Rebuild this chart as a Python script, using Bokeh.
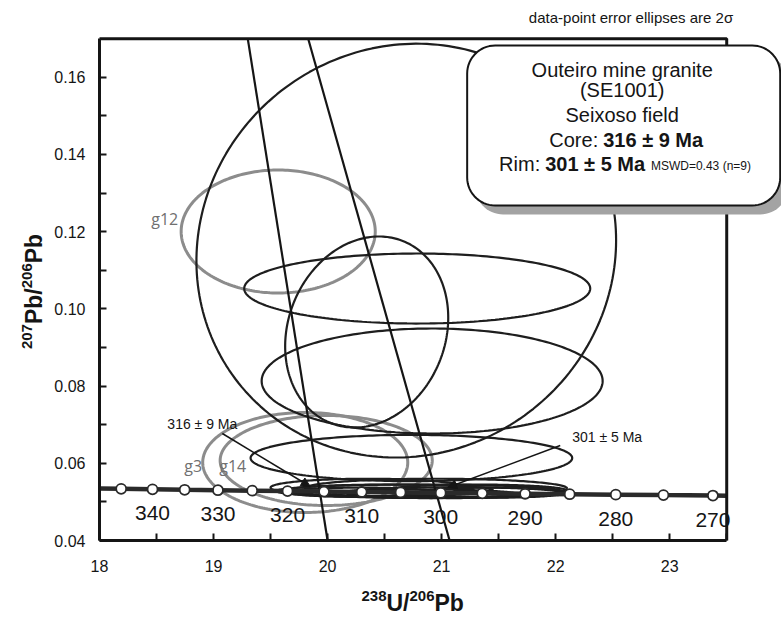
import numpy as np
from bokeh.plotting import figure
from bokeh.models import Range1d, FixedTicker, PrintfTickFormatter, Arrow, NormalHead
from bokeh.core.properties import value
from bokeh.embed import file_html
from bokeh.resources import INLINE

# ---------------- data ----------------
# concordia age markers (Ma) with their 238U/206Pb and 207Pb/206Pb positions
marker_age = [345, 340, 335, 330, 325, 320, 315, 310, 305, 300, 295, 290, 285, 280, 275, 270]
marker_x = [18.190, 18.465, 18.747, 19.039, 19.339, 19.649, 19.969, 20.299,
            20.640, 20.992, 21.356, 21.732, 22.123, 22.527, 22.945, 23.379]
marker_y = [0.05338, 0.05326, 0.05314, 0.05303, 0.05291, 0.05280, 0.05268, 0.05256,
            0.05245, 0.05233, 0.05222, 0.05211, 0.05199, 0.05188, 0.05176, 0.05165]
# concordia curve through the frame
conc_x = [18.0] + marker_x + [23.5]
conc_y = [0.05346] + marker_y + [0.05162]
# age labels every 10 Ma
age_label_text = ["340", "330", "320", "310", "300", "290", "280", "270"]
age_label_x = marker_x[1::2]
age_label_y = marker_y[1::2]

# discordia regression lines
disc1_x = [19.30, 20.00]
disc1_y = [0.17, 0.04]
disc2_x = [19.83, 21.07]
disc2_y = [0.17, 0.04]

# black data-point error ellipses: centre, half-widths, correlation
dark_cx = [20.69, 20.786, 20.343, 20.917, 20.735,
           20.35, 20.95, 20.80, 21.10, 20.55, 21.30, 20.85, 21.45, 20.30]
dark_cy = [0.1151, 0.10528, 0.09402, 0.08132, 0.06137,
           0.0537, 0.0535, 0.0528, 0.0524, 0.0530, 0.0529, 0.0521, 0.0524, 0.0525]
dark_ax = [1.84, 1.517, 0.715, 1.495, 1.41,
           0.85, 1.15, 1.25, 0.95, 0.90, 0.80, 0.80, 0.65, 0.65]
dark_ay = [0.0536, 0.00907, 0.02474, 0.0136, 0.0060,
           0.0023, 0.0025, 0.0017, 0.0014, 0.0015, 0.0016, 0.0011, 0.0013, 0.0012]
dark_rho = [0.05, 0.0, 0.15, 0.0, 0.0,
            0.0, 0.0, 0.0, 0.0, 0.0, 0.0, 0.0, 0.0, 0.0]

# grey (excluded) ellipses
grey_name = ["g12", "g3", "g14"]
grey_cx = [19.567, 19.804, 19.988]
grey_cy = [0.12005, 0.06021, 0.06073]
grey_ax = [0.851, 0.899, 0.930]
grey_ay = [0.01593, 0.01295, 0.01166]
grey_rho = [0.0, 0.0, 0.0]

x_ticks = [18, 19, 20, 21, 22, 23]
y_ticks = [0.04, 0.06, 0.08, 0.10, 0.12, 0.14, 0.16]

# ---------------- helpers ----------------
_t = np.linspace(0, 2 * np.pi, 240)


def outline(cx, cy, ax, ay, rho):
    xs = cx + ax * np.cos(_t)
    ys = cy + ay * (rho * np.cos(_t) + np.sqrt(1 - rho ** 2) * np.sin(_t))
    return list(xs), list(ys)


def rounded_box(x0, x1, y0, y1, rx, ry, n=16):
    xs, ys = [], []
    corners = [(x1 - rx, y1 - ry, 0), (x0 + rx, y1 - ry, 90),
               (x0 + rx, y0 + ry, 180), (x1 - rx, y0 + ry, 270)]
    for cx, cy, a0 in corners:
        a = np.radians(np.linspace(a0, a0 + 90, n))
        xs += list(cx + rx * np.cos(a))
        ys += list(cy + ry * np.sin(a))
    return xs, ys


FONT = value("Liberation Sans")
INK = "#151515"

# the frame covers the whole canvas; axes sit at fixed data locations
p = figure(frame_width=781, frame_height=617,
           x_range=Range1d(17.13188, 23.98036), y_range=Range1d(0.020052, 0.179896),
           min_border=0, toolbar_location=None, output_backend="svg", title=None)
p.outline_line_color = None
p.xgrid.visible = False
p.ygrid.visible = False
p.background_fill_color = "white"
p.border_fill_color = "white"

# axes
for ax in (p.xaxis[0], p.yaxis[0]):
    ax.axis_line_width = 3
    ax.axis_line_color = INK
    ax.major_tick_in = 7
    ax.major_tick_out = 0
    ax.minor_tick_in = 7
    ax.minor_tick_out = 0
    ax.major_tick_line_width = 2
    ax.minor_tick_line_width = 2
    ax.major_tick_line_color = INK
    ax.minor_tick_line_color = INK
    ax.major_label_text_font = "Liberation Sans"
    ax.major_label_text_font_size = "16px"
    ax.major_label_text_color = INK

p.xaxis.ticker = FixedTicker(ticks=x_ticks, minor_ticks=[v + 0.5 for v in x_ticks])
p.xaxis.bounds = (18, 23.5)
p.xaxis.fixed_location = 0.04
p.xaxis.major_label_standoff = 19

p.yaxis.ticker = FixedTicker(ticks=y_ticks, minor_ticks=[v + 0.01 for v in y_ticks[:-1]])
p.yaxis.bounds = (0.04, 0.17)
p.yaxis.fixed_location = 18
p.yaxis.formatter = PrintfTickFormatter(format="%.2f")
p.yaxis.major_label_standoff = 14

# grey ellipses
gx, gy = [], []
for i in range(len(grey_cx)):
    xs, ys = outline(grey_cx[i], grey_cy[i], grey_ax[i], grey_ay[i], grey_rho[i])
    gx.append(xs)
    gy.append(ys)
p.multi_line(gx, gy, line_color="#8c8c8c", line_width=3)

# black ellipses
dx, dy = [], []
for i in range(len(dark_cx)):
    xs, ys = outline(dark_cx[i], dark_cy[i], dark_ax[i], dark_ay[i], dark_rho[i])
    dx.append(xs)
    dy.append(ys)
p.multi_line(dx, dy, line_color="#1e1e1e", line_width=2.2)

# grey labels
p.text(x=[18.69], y=[0.1233], text=[grey_name[0]], text_align="right", text_baseline="middle",
       text_font=value("Open Sans"), text_font_size="16px", text_color="#707070")
p.text(x=[18.90], y=[0.0594], text=[grey_name[1]], text_align="right", text_baseline="middle",
       text_font=value("Open Sans"), text_font_size="16px", text_color="#707070")
p.text(x=[19.05], y=[0.0594], text=[grey_name[2]], text_align="left", text_baseline="middle",
       text_font=value("Open Sans"), text_font_size="16px", text_color="#707070")

# discordia lines
p.line(disc1_x, disc1_y, line_color=INK, line_width=2.2)
p.line(disc2_x, disc2_y, line_color=INK, line_width=2.2)

# concordia
p.line(conc_x, conc_y, line_color="#2a2a2a", line_width=4.5)
p.scatter(marker_x, marker_y, size=10, marker="circle", fill_color="white",
          line_color="#2a2a2a", line_width=1.8)
p.text(x=age_label_x, y=age_label_y, text=age_label_text, y_offset=24,
       text_align="center", text_baseline="middle", text_font=FONT,
       text_font_size="21px", text_color=INK)

# age annotations with arrows
p.text(x=[18.595], y=[0.0703], text=["316 ± 9 Ma"], text_align="left", text_baseline="middle",
       text_font=FONT, text_font_size="14px", text_color=INK)
p.text(x=[22.145], y=[0.0667], text=["301 ± 5 Ma"], text_align="left", text_baseline="middle",
       text_font=FONT, text_font_size="14px", text_color=INK)
p.add_layout(Arrow(end=NormalHead(size=9, fill_color=INK, line_color=INK),
                   x_start=19.077, y_start=0.06772, x_end=19.848, y_end=0.05399,
                   line_color=INK, line_width=1.5))
p.add_layout(Arrow(end=NormalHead(size=9, fill_color=INK, line_color=INK),
                   x_start=22.04, y_start=0.06461, x_end=21.053, y_end=0.05373,
                   line_color=INK, line_width=1.5))

# frame top and right
p.line([18, 23.5, 23.5], [0.17, 0.17, 0.04], line_color=INK, line_width=3)

# note above frame
p.text(x=[23.557], y=[0.1755], text=["data-point error ellipses are 2σ"], text_align="right",
       text_baseline="middle", text_font=FONT, text_font_size="15px", text_color=INK)

# result box with shadow
bx0, bx1, by0, by1 = 21.224, 23.969, 0.12679, 0.16824
rx, ry = 0.2455, 0.007254
sx, sy = rounded_box(bx0 + 0.07, bx1 + 0.07, by0 - 0.00233, by1 - 0.00233, rx, ry)
p.patch(sx, sy, fill_color="#a3a3a3", line_color=None)
bxs, bys = rounded_box(bx0, bx1, by0, by1, rx, ry)
p.patch(bxs, bys, fill_color="white", line_color=INK, line_width=2)

cxm = 22.5835
up = 0.0018
p.text(x=[cxm, cxm, cxm], y=[0.16003 + up, 0.15484 + up, 0.14837 + up],
       text=["Outeiro mine granite", "(SE1001)", "Seixoso field"],
       text_align="center", text_baseline="middle", text_font=FONT,
       text_font_size="20px", text_color=INK)
p.text(x=[22.373], y=[0.14189 + up], text=["Core:"], text_align="right",
       text_baseline="middle", text_font=FONT, text_font_size="20px", text_color=INK)
p.text(x=[22.417], y=[0.14189 + up], text=["316 ± 9 Ma"], text_align="left",
       text_baseline="middle", text_font=FONT, text_font_size="20px",
       text_font_style="bold", text_color=INK)
p.text(x=[21.8645], y=[0.13585 + up], text=["Rim:"], text_align="right",
       text_baseline="middle", text_font=FONT, text_font_size="20px", text_color=INK)
p.text(x=[21.908], y=[0.13585 + up], text=["301 ± 5 Ma"], text_align="left",
       text_baseline="middle", text_font=FONT, text_font_size="20px",
       text_font_style="bold", text_color=INK)
p.text(x=[22.8355], y=[0.13694], text=["MSWD=0.43 (n=9)"], text_align="left",
       text_baseline="middle", text_font=FONT, text_font_size="12px", text_color=INK)

# axis titles with superscript mass numbers
def title_piece(x, y, text, size, angle=0.0):
    p.text(x=[x], y=[y], text=[text], angle=angle, text_font=FONT,
           text_font_style="bold", text_font_size=size, text_color=INK,
           text_align="left", text_baseline="middle")

title_piece(20.2974, 0.025557, "238", "15px")
title_piece(20.5167, 0.023821, "U/", "23px")
title_piece(20.7184, 0.025557, "206", "15px")
title_piece(20.9376, 0.023821, "Pb", "23px")

RA = np.pi / 2
title_piece(17.36382, 0.089585, "207", "15px", RA)
title_piece(17.42257, 0.096062, "Pb/", "23px", RA)
title_piece(17.36382, 0.105337, "206", "15px", RA)
title_piece(17.42257, 0.111813, "Pb", "23px", RA)

open("out.html", "w").write(file_html(p, INLINE))
